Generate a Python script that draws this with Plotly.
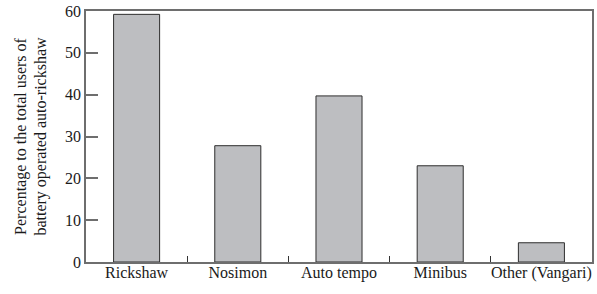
import plotly.graph_objects as go

categories = ["Rickshaw", "Nosimon", "Auto tempo", "Minibus", "Other (Vangari)"]
values = [59.2, 27.8, 39.7, 23.0, 4.6]
y_ticks = [0, 10, 20, 30, 40, 50, 60]

FONT = "Liberation Serif, Times New Roman, serif"
AXIS_COLOR = "#6e6e6e"

fig = go.Figure(
    go.Bar(
        x=categories,
        y=values,
        width=0.455,
        marker=dict(color="#bdbec1", line=dict(color="#2e2e2e", width=1)),
    )
)

fig.update_layout(
    width=597,
    height=294,
    margin=dict(l=86, r=5, t=11, b=32),
    paper_bgcolor="white",
    plot_bgcolor="white",
    font=dict(family=FONT, size=16, color="#1a1a1a"),
    showlegend=False,
)

fig.update_xaxes(
    type="category",
    range=[-0.5, 4.5],
    showline=True,
    linecolor=AXIS_COLOR,
    linewidth=1.5,
    mirror=True,
    ticks="inside",
    tickson="boundaries",
    ticklen=6,
    tickcolor="#333333",
    tickwidth=1,
    showgrid=False,
    tickangle=0,
    automargin=False,
    ticklabelstandoff=-5,
    tickfont=dict(family=FONT, size=16),
)

fig.update_yaxes(
    range=[0, 60],
    tickvals=y_ticks,
    showline=True,
    linecolor=AXIS_COLOR,
    linewidth=1.5,
    mirror=True,
    ticks="inside",
    ticklen=12,
    tickcolor=AXIS_COLOR,
    tickwidth=1.5,
    showgrid=False,
    zeroline=False,
    automargin=False,
    ticklabeloverflow="allow",
    tickfont=dict(family=FONT, size=16),
    title=dict(
        text="Percentage to the total users of<br>battery operated auto-rickshaw",
        font=dict(family=FONT, size=16),
        standoff=14,
    ),
)

fig.write_html(
    "out.html",
    config={"displayModeBar": False},
    post_script="document.body.style.margin='0';",
)
